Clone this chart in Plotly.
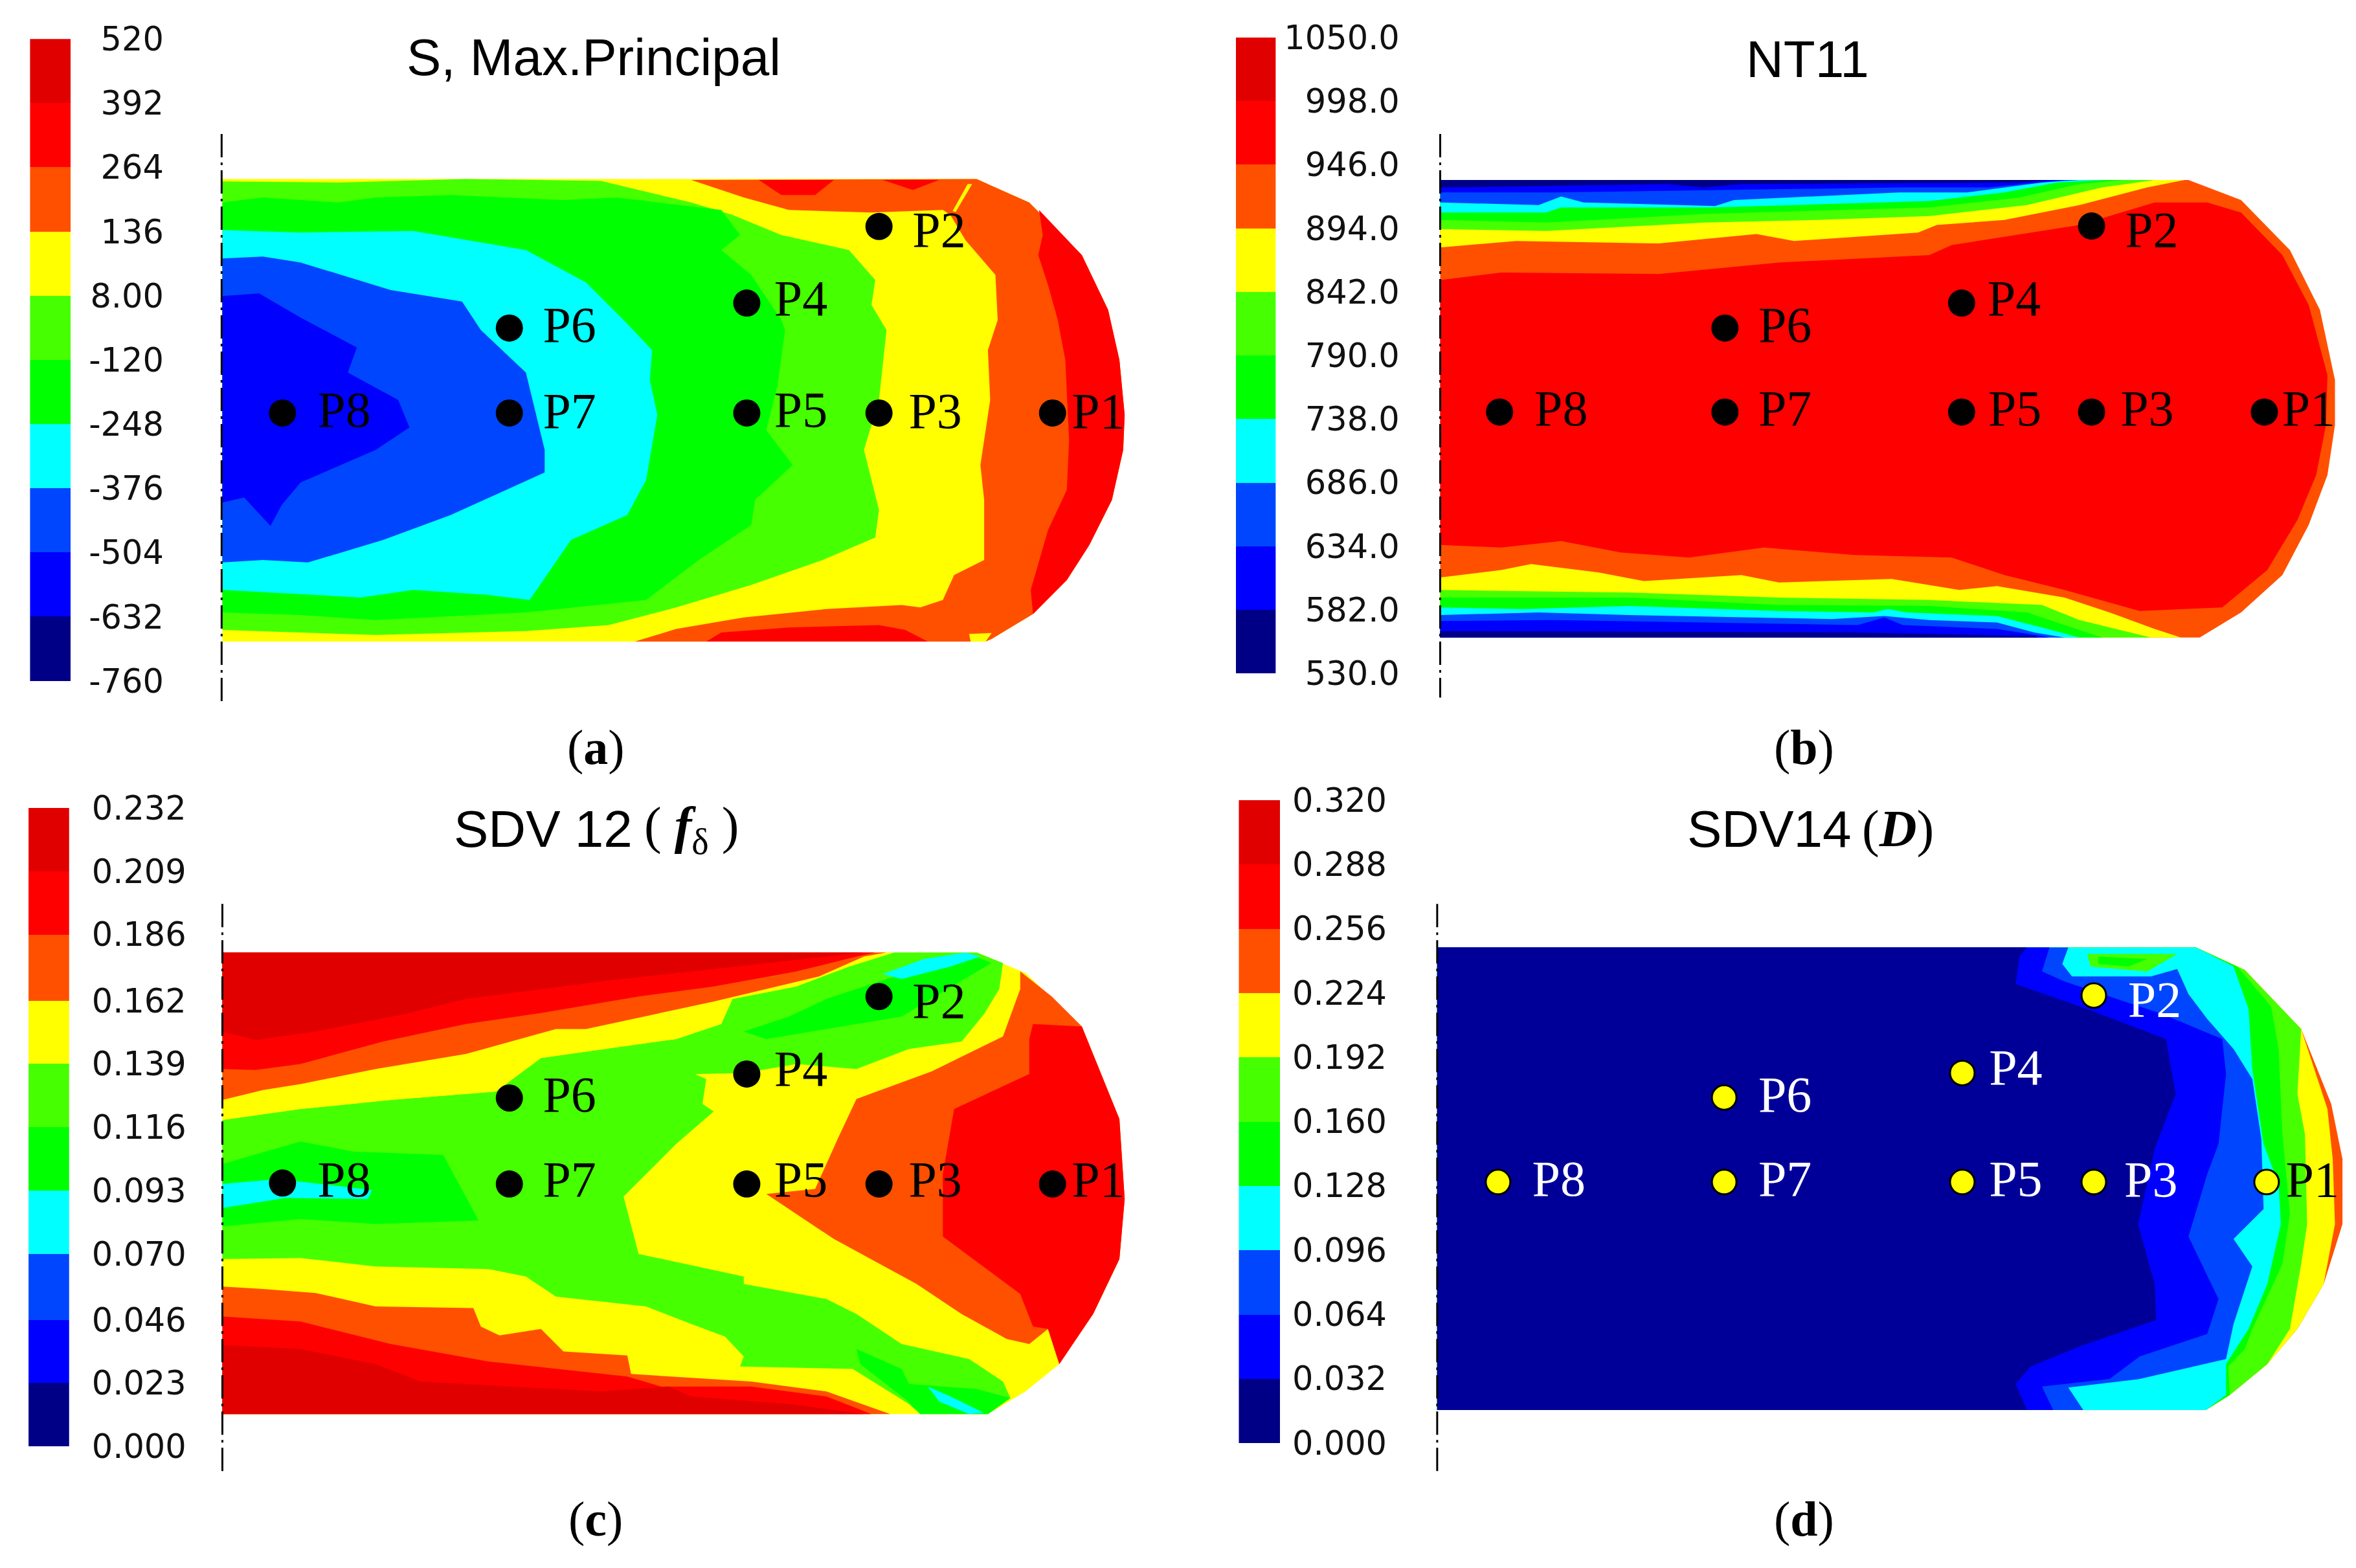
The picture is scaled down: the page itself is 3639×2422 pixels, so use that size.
import plotly.graph_objects as go

RED_DK = "#E10000"
RED = "#FF0000"
ORANGE = "#FF5000"
YELLOW = "#FFFF00"
LIME = "#46FF00"
GREEN = "#00FF00"
CYAN = "#00FFFF"
ROYAL = "#0046FF"
BLUE = "#0000FF"
NAVY = "#000086"
NAVY_BODY = "#000099"
BAND_COLORS = [NAVY, BLUE, ROYAL, CYAN, GREEN, LIME, YELLOW, ORANGE, RED, RED_DK]

# colour scale levels, low to high
LEVELS_A = [-760, -632, -504, -376, -248, -120, 8, 136, 264, 392, 520]
LABELS_A = ["-760", "-632", "-504", "-376", "-248", "-120", "8.00", "136", "264", "392", "520"]
LEVELS_B = [530, 582, 634, 686, 738, 790, 842, 894, 946, 998, 1050]
LABELS_B = ["530.0", "582.0", "634.0", "686.0", "738.0", "790.0", "842.0", "894.0", "946.0", "998.0", "1050.0"]
LEVELS_C = [0.0, 0.023, 0.046, 0.070, 0.093, 0.116, 0.139, 0.162, 0.186, 0.209, 0.232]
LABELS_C = ["0.000", "0.023", "0.046", "0.070", "0.093", "0.116", "0.139", "0.162", "0.186", "0.209", "0.232"]
LEVELS_D = [0.0, 0.032, 0.064, 0.096, 0.128, 0.160, 0.192, 0.224, 0.256, 0.288, 0.320]
LABELS_D = ["0.000", "0.032", "0.064", "0.096", "0.128", "0.160", "0.192", "0.224", "0.256", "0.288", "0.320"]

POINT_NAMES = ["P1", "P2", "P3", "P4", "P5", "P6", "P7", "P8"]

POINTS_A = [(1401, 826), (1170, 453), (1170, 826), (994, 606), (994, 826), (678, 656), (678, 826), (376, 826)]
NAMES_A = [(1462, 830), (1250, 468), (1245, 830), (1066, 605), (1066, 828), (758, 658), (758, 830), (458, 828)]
POINTS_B = [(1446, 824), (1216, 452), (1216, 824), (1043, 606), (1043, 824), (728, 656), (728, 824), (428, 824)]
NAMES_B = [(1505, 826), (1296, 468), (1290, 826), (1113, 605), (1114, 826), (808, 658), (808, 826), (510, 826)]
POINTS_C = [(1401, 800), (1170, 425), (1170, 800), (994, 580), (994, 800), (678, 628), (678, 800), (376, 798)]
NAMES_C = [(1462, 800), (1250, 442), (1245, 800), (1066, 578), (1066, 800), (758, 630), (758, 800), (458, 800)]
POINTS_D = [(1449, 796), (1219, 423), (1219, 796), (1044, 578), (1044, 796), (727, 627), (727, 796), (426, 796)]
NAMES_D = [(1510, 800), (1300, 440), (1295, 800), (1115, 576), (1115, 798), (808, 630), (808, 798), (507, 798)]

# panel a contour regions
A_OUTLINE = [(296, 358), (1300, 358), (1370, 405), (1440, 510), (1475, 620), (1490, 720), (1497, 830), (1495, 900), (1480, 1000), (1450, 1090), (1420, 1160), (1375, 1228), (1320, 1278), (1312, 1283), (296, 1283)]
A_ORANGE = [(920, 360), (1300, 358), (1370, 405), (1440, 510), (1475, 620), (1490, 720), (1497, 830), (1495, 900), (1480, 1000), (1450, 1090), (1420, 1160), (1375, 1228), (1320, 1278), (1312, 1283), (845, 1283), (900, 1258), (990, 1235), (1100, 1218), (1200, 1210), (1225, 1215), (1255, 1200), (1270, 1150), (1310, 1120), (1310, 1000), (1305, 930), (1318, 800), (1315, 700), (1328, 640), (1325, 550), (1285, 480), (1265, 430), (1255, 420), (1160, 425), (1050, 420), (990, 395)]
A_CRACK = [(1268, 422), (1288, 368), (1294, 368), (1272, 424)]
A_SPOT = [(1290, 1268), (1320, 1266), (1312, 1283), (1292, 1283)]
A_RED_R = [(1383, 420), (1440, 510), (1475, 620), (1490, 720), (1497, 830), (1495, 900), (1480, 1000), (1450, 1090), (1420, 1160), (1375, 1228), (1372, 1180), (1395, 1060), (1420, 980), (1423, 880), (1418, 720), (1408, 640), (1395, 570), (1382, 510), (1388, 470)]
A_RED_T1 = [(1010, 360), (1110, 360), (1085, 390), (1040, 390)]
A_RED_T2 = [(1175, 360), (1250, 360), (1215, 380)]
A_RED_B = [(940, 1283), (960, 1265), (1050, 1255), (1170, 1250), (1205, 1260), (1235, 1283)]
A_LIME = [(296, 363), (450, 365), (620, 358), (800, 362), (920, 405), (975, 430), (1040, 470), (1130, 500), (1165, 560), (1160, 610), (1180, 660), (1170, 800), (1150, 900), (1170, 1020), (1165, 1075), (1095, 1120), (1000, 1170), (900, 1215), (810, 1250), (700, 1262), (500, 1270), (296, 1260)]
A_GREEN = [(296, 405), (350, 395), (450, 405), (500, 395), (600, 390), (750, 400), (820, 395), (960, 420), (985, 470), (960, 500), (1000, 550), (1040, 640), (1045, 660), (1035, 770), (1020, 860), (1055, 930), (1005, 1000), (1000, 1050), (930, 1120), (860, 1200), (700, 1225), (500, 1240), (400, 1230), (296, 1225)]
A_CYAN = [(296, 460), (400, 465), (550, 462), (620, 480), (700, 500), (780, 565), (830, 640), (868, 700), (865, 760), (875, 830), (860, 960), (835, 1030), (760, 1080), (705, 1200), (650, 1190), (550, 1180), (480, 1195), (296, 1180)]
A_ROYAL = [(296, 517), (350, 513), (400, 525), (520, 580), (615, 603), (640, 660), (700, 745), (725, 900), (725, 945), (600, 1030), (510, 1080), (410, 1125), (350, 1120), (296, 1125)]
A_BLUE = [(296, 592), (345, 587), (400, 635), (475, 695), (463, 745), (530, 800), (545, 855), (500, 900), (400, 965), (375, 1010), (360, 1052), (325, 995), (296, 1005)]

# panel b contour regions; stripes are closed against the top or bottom edge
B_OUTLINE = [(349, 360), (1345, 360), (1415, 400), (1480, 500), (1520, 620), (1540, 760), (1540, 850), (1530, 950), (1505, 1050), (1470, 1150), (1415, 1225), (1360, 1275), (349, 1275)]
B_RED = [(349, 560), (430, 545), (640, 548), (800, 525), (1000, 510), (1030, 490), (1200, 450), (1300, 405), (1370, 405), (1415, 425), (1470, 510), (1505, 610), (1530, 750), (1528, 850), (1515, 950), (1490, 1040), (1450, 1140), (1390, 1215), (1280, 1222), (1180, 1180), (1100, 1150), (1030, 1115), (900, 1110), (780, 1095), (680, 1115), (590, 1105), (510, 1082), (430, 1095), (349, 1090)]
B_TOP_YELLOW = [(349, 495), (450, 482), (640, 487), (770, 468), (820, 482), (985, 465), (1010, 450), (1100, 440), (1200, 410), (1290, 375), (1340, 360)]
B_TOP_LIME = [(349, 458), (490, 462), (700, 445), (850, 440), (1000, 432), (1130, 410), (1230, 375), (1300, 360)]
B_TOP_GREEN = [(349, 440), (490, 445), (700, 428), (1000, 415), (1120, 395), (1200, 368), (1260, 360)]
B_TOP_CYAN = [(349, 425), (490, 425), (510, 415), (710, 415), (1000, 402), (1100, 385), (1170, 365), (1235, 360)]
B_TOP_ROYAL = [(349, 405), (480, 410), (510, 393), (540, 405), (715, 412), (740, 400), (960, 385), (1050, 385), (1150, 365), (1200, 360)]
B_TOP_BLUE = [(349, 385), (500, 385), (960, 375), (1080, 375), (1180, 360)]
B_TOP_NAVY = [(349, 375), (650, 368), (700, 375), (750, 368), (1120, 365), (1160, 360)]
B_BOT_YELLOW = [(349, 1155), (430, 1140), (470, 1128), (560, 1145), (620, 1162), (750, 1150), (800, 1165), (950, 1158), (1040, 1180), (1090, 1172), (1180, 1195), (1240, 1225), (1300, 1258), (1335, 1275)]
B_BOT_LIME = [(349, 1180), (600, 1185), (800, 1195), (1000, 1200), (1150, 1210), (1200, 1240), (1260, 1262), (1295, 1275)]
B_BOT_GREEN = [(349, 1195), (600, 1195), (800, 1210), (1000, 1212), (1130, 1225), (1200, 1260), (1230, 1275)]
B_BOT_CYAN = [(349, 1215), (460, 1218), (600, 1212), (800, 1222), (925, 1225), (945, 1218), (970, 1225), (1090, 1232), (1150, 1255), (1200, 1275)]
B_BOT_ROYAL = [(349, 1230), (480, 1225), (600, 1230), (870, 1238), (940, 1232), (1000, 1240), (1090, 1245), (1140, 1265), (1180, 1275)]
B_BOT_BLUE = [(349, 1242), (500, 1240), (905, 1250), (940, 1235), (965, 1250), (1090, 1258), (1150, 1272), (1160, 1275)]
B_BOT_NAVY = [(349, 1262), (900, 1265), (1140, 1272), (1145, 1275)]

# panel c contour regions
C_OUTLINE = [(296, 337), (1300, 337), (1365, 378), (1440, 485), (1490, 670), (1497, 830), (1490, 950), (1455, 1060), (1410, 1160), (1365, 1215), (1315, 1260), (296, 1260)]
C_LIME = [(296, 672), (400, 650), (520, 632), (660, 615), (720, 548), (900, 510), (960, 480), (975, 430), (1060, 405), (1130, 365), (1190, 337), (1300, 337), (1335, 358), (1330, 410), (1310, 460), (1280, 515), (1210, 530), (1140, 570), (1060, 560), (990, 578), (925, 580), (940, 590), (935, 640), (950, 655), (900, 720), (830, 825), (850, 940), (990, 985), (990, 1000), (1100, 1030), (1140, 1060), (1200, 1120), (1290, 1150), (1335, 1195), (1345, 1228), (1315, 1260), (1225, 1260), (1210, 1240), (1135, 1170), (985, 1165), (990, 1145), (965, 1105), (920, 1080), (860, 1045), (740, 1025), (700, 985), (650, 970), (500, 965), (400, 948), (296, 950)]
C_GREEN_L = [(296, 760), (400, 715), (470, 735), (590, 742), (637, 873), (500, 880), (400, 870), (296, 885)]
C_GREEN_T = [(990, 495), (1050, 465), (1100, 430), (1180, 390), (1290, 340), (1320, 358), (1250, 420), (1200, 465), (1100, 490), (1020, 510)]
C_GREEN_B = [(1140, 1130), (1200, 1170), (1210, 1200), (1300, 1210), (1345, 1228), (1315, 1260), (1225, 1260), (1205, 1230), (1145, 1160)]
C_CYAN_L = [(296, 800), (370, 790), (495, 812), (490, 830), (380, 828), (296, 848)]
C_CYAN_T = [(1175, 380), (1230, 350), (1285, 337), (1305, 345), (1265, 365), (1200, 390)]
C_CYAN_B = [(1235, 1205), (1265, 1225), (1310, 1258), (1290, 1260), (1250, 1235)]
C_ORANGE = [(1358, 375), (1400, 425), (1440, 485), (1490, 670), (1497, 830), (1490, 950), (1455, 1060), (1410, 1160), (1395, 1090), (1370, 1120), (1340, 1110), (1280, 1060), (1220, 1000), (1110, 910), (1020, 820), (1085, 810), (1115, 710), (1140, 630), (1240, 575), (1335, 505), (1358, 410)]
C_RED_R = [(1375, 480), (1440, 485), (1490, 670), (1497, 830), (1490, 950), (1455, 1060), (1410, 1160), (1395, 1090), (1375, 1085), (1358, 1020), (1255, 905), (1255, 780), (1270, 650), (1370, 580), (1370, 510)]
C_TOP_YELLOW = [(296, 672), (400, 650), (520, 632), (660, 615), (720, 548), (900, 510), (960, 480), (975, 430), (1060, 405), (1130, 365), (1190, 337)]
C_TOP_ORANGE = [(296, 632), (350, 612), (400, 600), (500, 570), (620, 540), (740, 490), (780, 490), (950, 435), (1090, 385), (1150, 345), (1180, 337)]
C_TOP_RED = [(296, 570), (340, 572), (400, 560), (450, 540), (510, 515), (620, 480), (720, 458), (850, 425), (950, 405), (1060, 375), (1140, 345), (1165, 337)]
C_TOP_DARK = [(296, 495), (340, 512), (420, 495), (540, 460), (620, 430), (800, 395), (980, 365), (1100, 345), (1150, 337)]
C_BOT_ORANGE = [(296, 1005), (350, 1010), (420, 1018), (500, 1045), (630, 1048), (640, 1085), (665, 1103), (720, 1090), (750, 1135), (835, 1143), (840, 1180), (1000, 1195), (1100, 1215), (1185, 1260)]
C_BOT_RED = [(296, 1065), (400, 1075), (520, 1120), (650, 1155), (835, 1185), (880, 1205), (1000, 1205), (1100, 1225), (1160, 1260)]
C_BOT_DARK = [(296, 1122), (400, 1130), (500, 1160), (560, 1195), (800, 1215), (890, 1205), (920, 1225), (1050, 1240), (1150, 1260)]

# panel d contour regions, nested from the right hand tip inwards
D_OUTLINE = [(345, 327), (1355, 327), (1420, 372), (1495, 490), (1535, 640), (1550, 750), (1550, 880), (1525, 1000), (1490, 1090), (1450, 1160), (1400, 1222), (1368, 1252), (345, 1252)]
D_YELLOW = [(345, 327), (1355, 327), (1420, 372), (1495, 490), (1530, 650), (1537, 750), (1540, 880), (1525, 1000), (1490, 1090), (1450, 1160), (1400, 1222), (1368, 1252), (345, 1252)]
D_LIME = [(345, 327), (1355, 327), (1420, 372), (1495, 490), (1490, 620), (1500, 700), (1503, 880), (1495, 960), (1480, 1090), (1450, 1160), (1400, 1222), (1368, 1252), (345, 1252)]
D_GREEN = [(345, 327), (1355, 327), (1410, 365), (1455, 445), (1465, 530), (1470, 700), (1480, 860), (1470, 960), (1430, 1090), (1420, 1130), (1398, 1165), (1400, 1222), (1368, 1252), (345, 1252)]
D_CYAN = [(345, 327), (1355, 327), (1405, 365), (1425, 450), (1430, 570), (1445, 720), (1465, 800), (1468, 880), (1450, 1000), (1425, 1090), (1395, 1160), (1395, 1222), (1368, 1252), (345, 1252)]
D_ROYAL = [(345, 327), (1185, 327), (1177, 360), (1190, 385), (1295, 385), (1330, 370), (1345, 420), (1370, 470), (1405, 530), (1430, 590), (1442, 710), (1445, 850), (1405, 910), (1430, 965), (1405, 1080), (1395, 1150), (1280, 1190), (1185, 1207), (1205, 1252), (345, 1252)]
D_BLUE = [(345, 327), (1160, 327), (1150, 375), (1180, 395), (1310, 460), (1390, 510), (1395, 580), (1385, 720), (1370, 780), (1345, 905), (1385, 1030), (1370, 1100), (1280, 1145), (1240, 1190), (1150, 1205), (1165, 1252), (345, 1252)]
D_NAVY = [(345, 327), (1130, 327), (1120, 345), (1115, 400), (1210, 450), (1315, 510), (1328, 620), (1300, 730), (1278, 880), (1300, 1000), (1302, 1072), (1200, 1125), (1135, 1165), (1115, 1200), (1130, 1252), (345, 1252)]
D_PATCH = [(1210, 340), (1330, 340), (1290, 375), (1215, 365)]
D_PATCH_CORE = [(1225, 345), (1290, 350), (1265, 365), (1225, 360)]


def closed(pts, edge, left):
    # close a stripe boundary against a straight edge of the body
    return pts + [(pts[-1][0], edge), (left, edge)]


PANEL_A = [(A_OUTLINE, YELLOW), (A_ORANGE, ORANGE), (A_CRACK, YELLOW), (A_SPOT, YELLOW), (A_RED_R, RED), (A_RED_T1, RED), (A_RED_T2, RED), (A_RED_B, RED),
           (A_LIME, LIME), (A_GREEN, GREEN), (A_CYAN, CYAN), (A_ROYAL, ROYAL), (A_BLUE, BLUE)]
PANEL_B = [(B_OUTLINE, ORANGE), (B_RED, RED)]
for pts, col in [(B_TOP_YELLOW, YELLOW), (B_TOP_LIME, LIME), (B_TOP_GREEN, GREEN), (B_TOP_CYAN, CYAN), (B_TOP_ROYAL, ROYAL), (B_TOP_BLUE, BLUE), (B_TOP_NAVY, NAVY)]:
    PANEL_B.append((closed(pts, 360, 349), col))
for pts, col in [(B_BOT_YELLOW, YELLOW), (B_BOT_LIME, LIME), (B_BOT_GREEN, GREEN), (B_BOT_CYAN, CYAN), (B_BOT_ROYAL, ROYAL), (B_BOT_BLUE, BLUE), (B_BOT_NAVY, NAVY)]:
    PANEL_B.append((closed(pts, 1275, 349), col))
PANEL_C = [(C_OUTLINE, YELLOW), (C_LIME, LIME), (C_GREEN_L, GREEN), (C_GREEN_T, GREEN), (C_GREEN_B, GREEN), (C_CYAN_L, CYAN), (C_CYAN_T, CYAN), (C_CYAN_B, CYAN), (C_ORANGE, ORANGE), (C_RED_R, RED)]
for pts, col in [(C_TOP_YELLOW, YELLOW), (C_TOP_ORANGE, ORANGE), (C_TOP_RED, RED), (C_TOP_DARK, RED_DK)]:
    PANEL_C.append((closed(pts, 337, 296), col))
for pts, col in [(C_BOT_ORANGE, ORANGE), (C_BOT_RED, RED), (C_BOT_DARK, RED_DK)]:
    PANEL_C.append((closed(pts, 1260, 296), col))
PANEL_D = [(D_OUTLINE, ORANGE), (D_YELLOW, YELLOW), (D_LIME, LIME), (D_GREEN, GREEN), (D_CYAN, CYAN), (D_PATCH, LIME), (D_PATCH_CORE, GREEN), (D_ROYAL, ROYAL), (D_BLUE, BLUE), (D_NAVY, NAVY_BODY)]

SERIF = "Liberation Serif"
SANS = "Liberation Sans"
W, H = 3639, 2422
BODY = 8                   # browser default page margin
GRID_X, GRID_Y = 1568.0, 1568.0   # measuring grid per quarter of the page


def page_x(col, gx):
    return (col * W / 2 + gx / GRID_X * W / 2 - BODY) / (W - BODY)


def page_y(row, gy):
    return 1 - (row * H / 2 + gy / GRID_Y * H / 2 - BODY) / (H - BODY)


panels = [
    dict(n=1, col=0, row=0, layers=PANEL_A, points=POINTS_A, names=NAMES_A, levels=LEVELS_A, labels=LABELS_A,
         bar=(40, 94, 78, 1362), tick_x=218, axis_x=295, axis_y=(268, 1405),
         titles=[("S, Max.Principal", SANS, 790, 115)], letter="(<b>a</b>)", letter_at=(793, 1495)),
    dict(n=2, col=1, row=0, layers=PANEL_B, points=POINTS_B, names=NAMES_B, levels=LEVELS_B, labels=LABELS_B,
         bar=(77, 130, 75, 1347), tick_x=295, axis_x=349, axis_y=(268, 1395),
         titles=[("NT11", SANS, 838, 118)], letter="(<b>b</b>)", letter_at=(833, 1495)),
    dict(n=3, col=0, row=1, layers=PANEL_C, points=POINTS_C, names=NAMES_C, levels=LEVELS_C, labels=LABELS_C,
         bar=(38, 92, 48, 1325), tick_x=248, axis_x=296, axis_y=(240, 1378),
         titles=[("SDV 12", SANS, 723, 90), ("( <b><i>f</i></b><sub>δ</sub> )", SERIF, 920, 90)],
         letter="(<b>c</b>)", letter_at=(793, 1470)),
    dict(n=4, col=1, row=1, layers=PANEL_D, points=POINTS_D, names=NAMES_D, levels=LEVELS_D, labels=LABELS_D,
         bar=(81, 136, 32, 1318), tick_x=278, axis_x=345, axis_y=(240, 1375),
         titles=[("SDV14", SANS, 787, 90), ("(<b><i>D</i></b>)", SERIF, 958, 90)],
         letter="(<b>d</b>)", letter_at=(833, 1470)),
]

fig = go.Figure()
layout_axes = {}
annotations = []

for p in panels:
    n = p["n"]
    col, row = p["col"], p["row"]
    xname, yname = f"x{n}", f"y{n}"
    # the first column/row starts under the page margin, so its range starts a little in
    gx0 = 0 if col else BODY / (W / 2) * GRID_X
    gy0 = 0 if row else BODY / (H / 2) * GRID_Y
    layout_axes[f"xaxis{n}"] = dict(domain=[max(page_x(col, gx0), 0), min(page_x(col, GRID_X), 1)], range=[gx0, GRID_X],
                                    visible=False, anchor=yname, automargin=False)
    layout_axes[f"yaxis{n}"] = dict(domain=[max(page_y(row, GRID_Y), 0), min(page_y(row, gy0), 1)], range=[GRID_Y, gy0],
                                    visible=False, anchor=xname, automargin=False)

    for pts, color in p["layers"]:
        fig.add_trace(go.Scatter(x=[q[0] for q in pts], y=[q[1] for q in pts], mode="lines", fill="toself",
                                 fillcolor=color, line=dict(width=0), hoverinfo="skip", showlegend=False,
                                 xaxis=xname, yaxis=yname))

    # dash-dot symmetry line
    fig.add_trace(go.Scatter(x=[p["axis_x"], p["axis_x"]], y=list(p["axis_y"]), mode="lines",
                             line=dict(color="black", width=3, dash="36px,8px,4px,8px"), hoverinfo="skip",
                             showlegend=False, xaxis=xname, yaxis=yname))

    marker = dict(color="black", size=42)
    text_colors = ["black"] * 8
    if n == 4:
        marker = dict(color=YELLOW, size=38, line=dict(color="black", width=3))
        text_colors = ["black"] + ["white"] * 7
    fig.add_trace(go.Scatter(x=[q[0] for q in p["points"]], y=[q[1] for q in p["points"]], mode="markers",
                             marker=marker, hoverinfo="skip", showlegend=False, xaxis=xname, yaxis=yname))
    fig.add_trace(go.Scatter(x=[q[0] for q in p["names"]], y=[q[1] for q in p["names"]], mode="text",
                             text=POINT_NAMES, textposition="middle center",
                             textfont=dict(family=SERIF, size=78, color=text_colors),
                             hoverinfo="skip", showlegend=False, xaxis=xname, yaxis=yname))

    for text, family, tx, ty in p["titles"]:
        annotations.append(dict(text=text, x=tx, y=ty, xref=xname, yref=yname, showarrow=False,
                                font=dict(family=family, size=80, color="black")))
    annotations.append(dict(text=p["letter"], x=p["letter_at"][0], y=p["letter_at"][1], xref=xname, yref=yname,
                            showarrow=False, font=dict(family=SERIF, size=76, color="black")))

    # colour bar on its own value axis
    bx0, bx1, by0, by1 = p["bar"]
    bar_x, bar_y = f"x{n + 4}", f"y{n + 4}"
    levels = p["levels"]
    fig.add_trace(go.Bar(x=[0] * 10, base=levels[:-1], y=[levels[i + 1] - levels[i] for i in range(10)],
                         width=1, marker=dict(color=BAND_COLORS, line=dict(width=0)), hoverinfo="skip",
                         showlegend=False, xaxis=bar_x, yaxis=bar_y))
    layout_axes[f"xaxis{n + 4}"] = dict(domain=[page_x(col, bx0), page_x(col, bx1)], range=[-0.5, 0.5],
                                        visible=False, anchor=bar_y, automargin=False)
    layout_axes[f"yaxis{n + 4}"] = dict(domain=[page_y(row, by1), page_y(row, by0)],
                                        range=[levels[0], levels[-1]], anchor="free", side="left",
                                        position=page_x(col, p["tick_x"]), showgrid=False, zeroline=False,
                                        showline=False, ticks="", tickmode="array", tickvals=levels, automargin=False,
                                        ticktext=p["labels"], tickfont=dict(family="DejaVu Sans", size=51, color="#111111"))

fig.update_layout(width=W - BODY, height=H - BODY, margin=dict(l=0, r=0, t=0, b=0, pad=0), barmode="overlay", bargap=0,
                  plot_bgcolor="white", paper_bgcolor="white", annotations=annotations, showlegend=False, **layout_axes)

fig.write_html("out.html")
